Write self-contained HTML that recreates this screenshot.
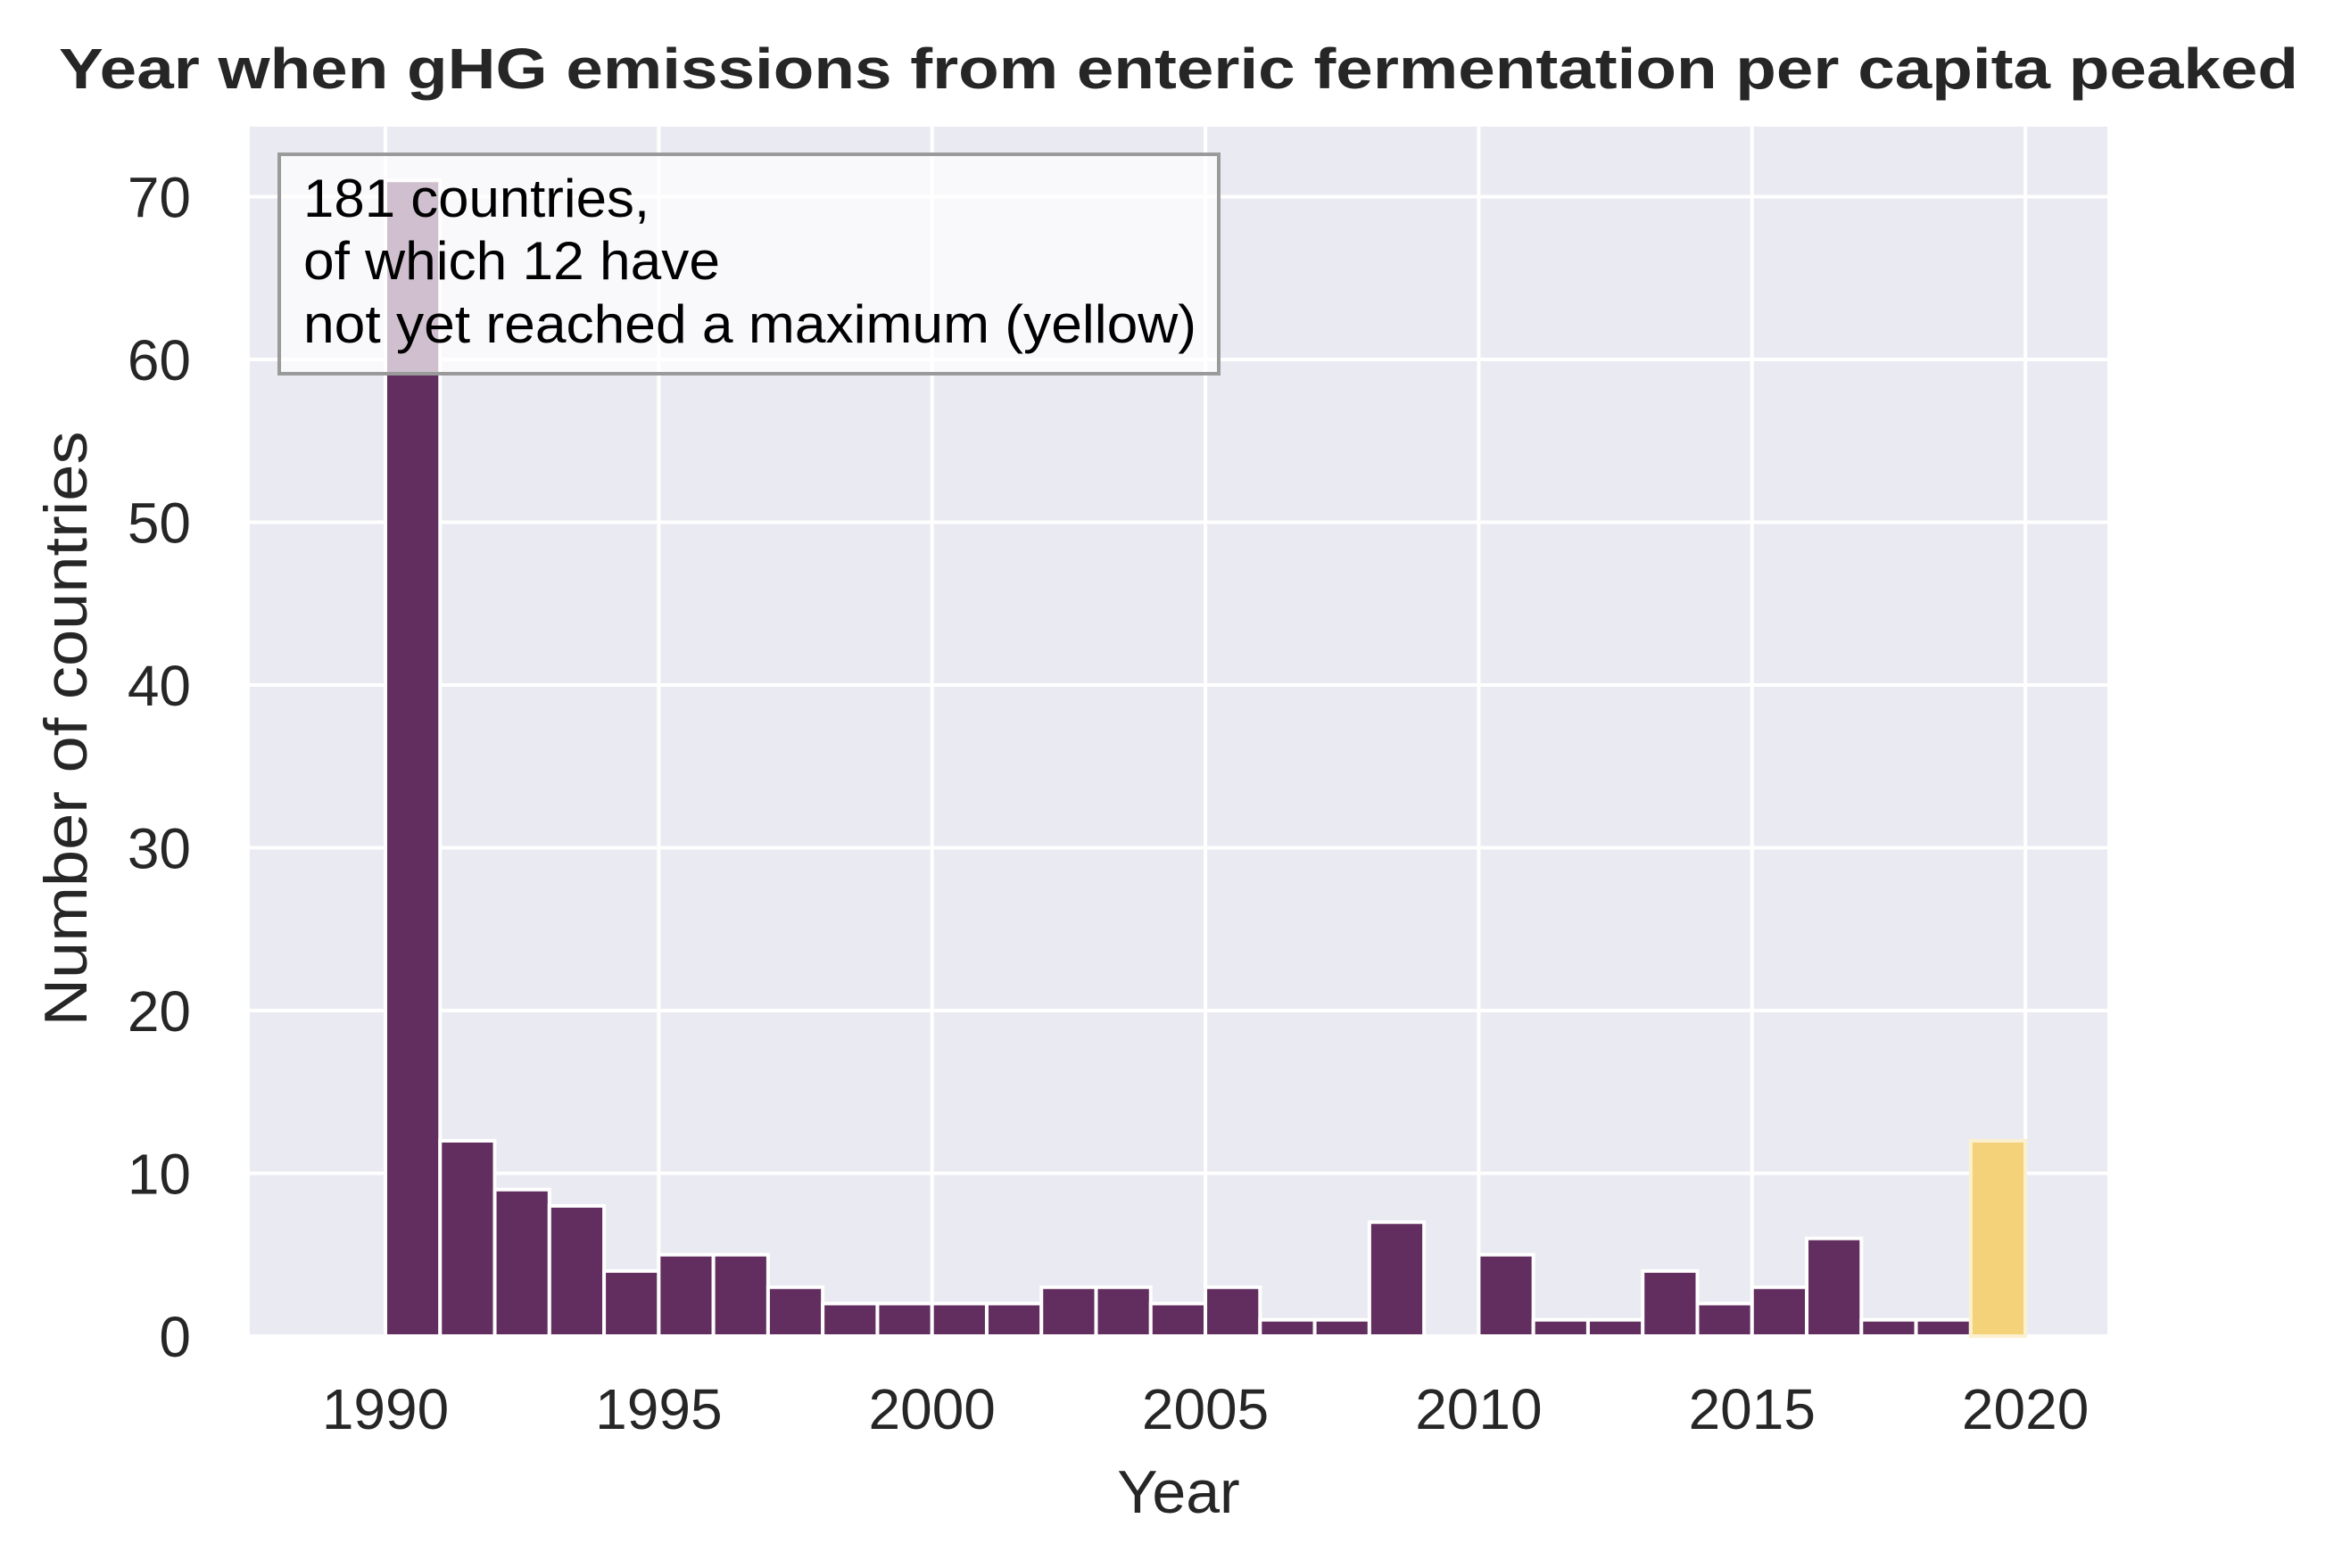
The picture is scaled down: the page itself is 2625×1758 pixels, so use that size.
<!DOCTYPE html>
<html><head><meta charset="utf-8"><style>
html,body{margin:0;padding:0;background:#fff;}
svg{display:block;font-family:"Liberation Sans",Arial,sans-serif;}
</style></head><body>
<svg id="chart" width="2625" height="1758" viewBox="0 0 2625 1758" xmlns="http://www.w3.org/2000/svg">
<rect x="280" y="142" width="2082" height="1356" fill="#eaeaf2"/>
<g id="grid"></g>
<g id="bars"></g>
<g id="ticks"></g>
<g>
<rect x="313" y="173" width="1053" height="246" fill="#ffffff" fill-opacity="0.7" stroke="#9a9a9a" stroke-width="4"/>
<text x="340" y="243" font-size="60" fill="#000" textLength="388" lengthAdjust="spacingAndGlyphs">181 countries,</text>
<text x="340" y="313" font-size="60" fill="#000" textLength="467" lengthAdjust="spacingAndGlyphs">of which 12 have</text>
<text x="340" y="384" font-size="60" fill="#000" textLength="1001" lengthAdjust="spacingAndGlyphs">not yet reached a maximum (yellow)</text>
</g>
<text x="1321" y="99" font-size="64" font-weight="bold" fill="#262626" text-anchor="middle" textLength="2510" lengthAdjust="spacingAndGlyphs">Year when gHG emissions from enteric fermentation per capita peaked</text>
<text x="1321" y="1696" font-size="68" fill="#262626" text-anchor="middle">Year</text>
<text transform="translate(97,817) rotate(-90)" font-size="68" fill="#262626" text-anchor="middle" textLength="667" lengthAdjust="spacingAndGlyphs">Number of countries</text>
</svg>
<script>
const binStarts=[1990,1991,1992,1993,1994,1995,1996,1997,1998,1999,2000,2001,2002,2003,2004,2005,2006,2007,2008,2009,2010,2011,2012,2013,2014,2015,2016,2017,2018,2019];
const peakedCounts=[71,12,9,8,4,5,5,3,2,2,2,2,3,3,2,3,1,1,7,0,5,1,1,4,2,3,6,1,1,0];
const notPeakedCounts=[0,0,0,0,0,0,0,0,0,0,0,0,0,0,0,0,0,0,0,0,0,0,0,0,0,0,0,0,0,12];
const xTicks=[1990,1995,2000,2005,2010,2015,2020];
const yTicks=[0,10,20,30,40,50,60,70];
const NS='http://www.w3.org/2000/svg';
const X0=280,X1=2362,Y0=1498,Y1=142,yMax=74.3;
function sx(v){return 432+(v-1990)*61.27;}
function sy(v){return Y0-v/yMax*(Y0-Y1);}
function mk(tag,attrs,parent){const e=document.createElementNS(NS,tag);for(const k in attrs)e.setAttribute(k,attrs[k]);parent.appendChild(e);return e;}
const grid=document.getElementById('grid'),bars=document.getElementById('bars'),ticks=document.getElementById('ticks');
xTicks.forEach(t=>{
 const l=mk('line',{x1:sx(t),x2:sx(t),y1:Y1,y2:Y0,stroke:'#fff','stroke-width':4},grid);
 
 
 const tx=mk('text',{x:sx(t),y:1602,'font-size':64,fill:'#262626','text-anchor':'middle'},ticks);
 tx.textContent=t;
 
 
});
yTicks.forEach(t=>{
 const l=mk('line',{x1:X0,x2:X1,y1:sy(t),y2:sy(t),stroke:'#fff','stroke-width':4},grid);
 
 
 const tx=mk('text',{x:214,y:sy(t)+23,'font-size':64,fill:'#262626','text-anchor':'end'},ticks);
 tx.textContent=t;
 
 
});
binStarts.forEach((b,i)=>{
 const x=sx(b),w=sx(b+1)-sx(b);
 if(peakedCounts[i]>0){
  const r=mk('rect',{x:x,y:sy(peakedCounts[i]),width:w,height:Y0-sy(peakedCounts[i]),fill:'#622d5f',stroke:'#fff','stroke-width':4},bars);
  
  
 }
 if(notPeakedCounts[i]>0){
  const r=mk('rect',{x:x,y:sy(notPeakedCounts[i]),width:w,height:Y0-sy(notPeakedCounts[i]),fill:'#f3d27a',stroke:'#fbf0d0','stroke-width':4},bars);
  
  
 }
});
</script>
</body></html>
